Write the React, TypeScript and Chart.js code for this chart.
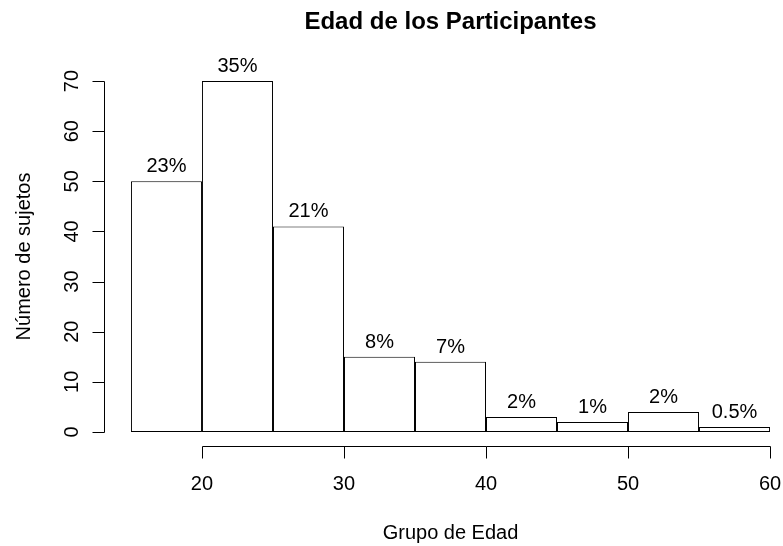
import React, { useEffect, useRef } from "react";
import { Chart, registerables } from "chart.js";

Chart.register(...registerables);

const binEdges = [15, 20, 25, 30, 35, 40, 45, 50, 55, 60];
const counts = [50, 70, 41, 15, 14, 3, 2, 4, 1];
const pctLabels = ["23%", "35%", "21%", "8%", "7%", "2%", "1%", "2%", "0.5%"];
const xTicks = [20, 30, 40, 50, 60];
const yTicks = [0, 10, 20, 30, 40, 50, 60, 70];
const titleText = "Edad de los Participantes";
const xTitle = "Grupo de Edad";
const yTitle = "Número de sujetos";

const FONT = '"Liberation Sans", Arial, Helvetica, sans-serif';
const W = 830;
const H = 546;

export default function App() {
  const ref = useRef<HTMLCanvasElement | null>(null);

  useEffect(() => {
    const canvas = ref.current;
    if (!canvas) return;

    const points = counts.map((c, i) => ({ x: (binEdges[i] + binEdges[i + 1]) / 2, y: c }));

    const rPlugin = {
      id: "rBase",
      afterDraw(chart: any) {
        const ctx = chart.ctx as CanvasRenderingContext2D;
        const xs = chart.scales.x;
        const ys = chart.scales.y;
        const area = chart.chartArea;
        ctx.save();
        ctx.strokeStyle = "#000";
        ctx.fillStyle = "#000";
        ctx.lineWidth = 1;

        // x axis
        const yAx = Math.round(area.bottom) + 0.5;
        const x0 = xs.getPixelForValue(xTicks[0]);
        const x1 = xs.getPixelForValue(xTicks[xTicks.length - 1]);
        ctx.beginPath();
        ctx.moveTo(Math.round(x0) + 0.5, yAx);
        ctx.lineTo(Math.round(x1) + 0.5, yAx);
        xTicks.forEach((t) => {
          const px = Math.round(xs.getPixelForValue(t)) + 0.5;
          ctx.moveTo(px, yAx);
          ctx.lineTo(px, yAx + 12);
        });
        // y axis
        const xAx = Math.round(area.left) - 0.5;
        const y0 = ys.getPixelForValue(yTicks[0]);
        const y1 = ys.getPixelForValue(yTicks[yTicks.length - 1]);
        ctx.moveTo(xAx, Math.round(y0) + 0.5);
        ctx.lineTo(xAx, Math.round(y1) + 0.5);
        yTicks.forEach((t) => {
          const py = Math.round(ys.getPixelForValue(t)) + 0.5;
          ctx.moveTo(xAx, py);
          ctx.lineTo(xAx - 12, py);
        });
        ctx.stroke();

        // tick labels
        ctx.font = `20px ${FONT}`;
        ctx.textAlign = "center";
        ctx.textBaseline = "alphabetic";
        xTicks.forEach((t) => {
          ctx.fillText(String(t), xs.getPixelForValue(t), area.bottom + 44);
        });
        yTicks.forEach((t) => {
          ctx.save();
          ctx.translate(area.left - 27.5, ys.getPixelForValue(t));
          ctx.rotate(-Math.PI / 2);
          ctx.fillText(String(t), 0, 0);
          ctx.restore();
        });

        // percent labels
        const meta = chart.getDatasetMeta(0);
        meta.data.forEach((el: any, i: number) => {
          ctx.fillText(pctLabels[i], el.x, ys.getPixelForValue(counts[i]) - 9);
        });

        // titles
        const cx = (area.left + area.right) / 2;
        const cy = (area.top + area.bottom) / 2;
        ctx.fillText(xTitle, cx, area.bottom + 93);
        ctx.save();
        ctx.translate(area.left - 75, cy);
        ctx.rotate(-Math.PI / 2);
        ctx.fillText(yTitle, 0, 0);
        ctx.restore();

        ctx.font = `bold 24px ${FONT}`;
        ctx.fillText(titleText, cx, 29);
        ctx.restore();
      },
    };

    const chart = new Chart(canvas, {
      type: "bar",
      data: {
        datasets: [
          {
            label: "Participantes",
            data: points as any,
            backgroundColor: "#ffffff",
            borderColor: "#000000",
            borderWidth: 1,
            borderSkipped: false,
            barPercentage: 1,
            categoryPercentage: 1,
            inflateAmount: 0,
          } as any,
        ],
      },
      options: {
        responsive: false,
        animation: false,
        devicePixelRatio: 1,
        layout: { padding: { left: 105.4, right: W - 795.6, top: 67, bottom: H - 446 } },
        plugins: {
          legend: { display: false },
          title: { display: false },
          tooltip: { enabled: false },
        },
        scales: {
          x: { type: "linear", min: 13.2, max: 61.8, offset: false, display: false, grid: { offset: false } },
          y: { type: "linear", min: -2.8, max: 72.8, display: false },
        },
      },
      plugins: [rPlugin],
    });

    return () => chart.destroy();
  }, []);

  return (
    <div
      style={{
        position: "absolute",
        left: 0,
        top: 0,
        width: 783,
        height: 546,
        overflow: "hidden",
        background: "#fff",
      }}
    >
      <canvas ref={ref} width={W} height={H} style={{ display: "block" }} />
    </div>
  );
}
